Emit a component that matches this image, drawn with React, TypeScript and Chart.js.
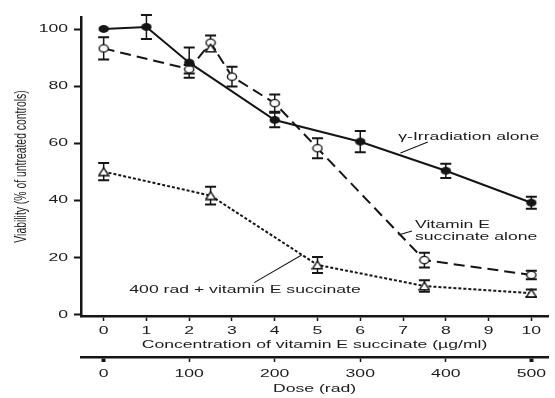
import { useEffect, useRef } from 'react';
import { Chart, registerables } from 'chart.js';

Chart.register(...registerables);

// ---- data ----
const CONC_TICKS = [0, 1, 2, 3, 4, 5, 6, 7, 8, 9, 10];
const DOSE_TICKS = [0, 100, 200, 300, 400, 500];
const Y_TICKS = [0, 20, 40, 60, 80, 100];

const GAMMA_X = [0, 1, 2, 4, 6, 8, 10];
const GAMMA_Y = [100.1, 100.8, 88.3, 68.2, 60.6, 50.4, 39.2];
const GAMMA_ERR = [0, 4.2, 5.3, 2.5, 3.7, 2.5, 2.1];

const VITE_X = [0, 2, 2.5, 3, 4, 5, 7.5, 10];
const VITE_Y = [93.3, 86, 95.3, 83.4, 74.1, 58.3, 19.1, 13.9];
const VITE_ERR = [3.9, 1.5, 2.5, 3.5, 3, 3.5, 2.6, 1.5];

const COMBO_X = [0, 2.5, 5, 7.5, 10];
const COMBO_Y = [50.1, 41.7, 17.4, 10, 7.5];
const COMBO_ERR = [3, 3.1, 2.8, 2, 1.3];

const EXTRA_X = [2.5];
const EXTRA_Y = [93.4];

const LABEL_GAMMA = ['γ-Irradiation alone'];
const LABEL_VITE = ['Vitamin E', 'succinate alone'];
const LABEL_COMBO = ['400 rad + vitamin E succinate'];

// ---- style ----
const INK = '#151515';
const TEXT = '#1c1c1c';
const FONT_FAMILY = '"Liberation Sans", Arial, sans-serif';
const SX = 1.6; // horizontal stretch of the scanned figure's text
const X_MIN = -0.53;
const X_MAX = 10.39;
const DOSE_PER_CONC = 50;

const pts = (xs: number[], ys: number[]) => xs.map((x, i) => ({ x, y: ys[i] }));

function patchContext(ctx: CanvasRenderingContext2D) {
  const origFill = ctx.fillText.bind(ctx);
  const origMeasure = ctx.measureText.bind(ctx);
  (ctx as any).fillText = (text: string, x: number, y: number, maxWidth?: number) => {
    const m = ctx.getTransform();
    const px = m.a * x + m.c * y + m.e;
    const py = m.b * x + m.d * y + m.f;
    ctx.save();
    ctx.setTransform(1, 0, 0, 1, 0, 0);
    ctx.translate(px, py);
    ctx.scale(SX, 1);
    ctx.translate(-px, -py);
    ctx.transform(m.a, m.b, m.c, m.d, m.e, m.f);
    if (maxWidth === undefined || maxWidth === null) origFill(text, x, y);
    else origFill(text, x, y, maxWidth);
    ctx.restore();
  };
  (ctx as any).measureText = (text: string) => {
    const r = origMeasure(text);
    return {
      width: r.width * SX,
      actualBoundingBoxAscent: r.actualBoundingBoxAscent,
      actualBoundingBoxDescent: r.actualBoundingBoxDescent,
      actualBoundingBoxLeft: r.actualBoundingBoxLeft * SX,
      actualBoundingBoxRight: r.actualBoundingBoxRight * SX,
    };
  };
}

function makeMarker(kind: 'filled' | 'open' | 'triangle') {
  const c = document.createElement('canvas');
  c.width = 12;
  c.height = 10;
  const g = c.getContext('2d')!;
  g.strokeStyle = INK;
  g.fillStyle = kind === 'filled' ? INK : '#fff';
  g.lineWidth = 1.4;
  g.beginPath();
  if (kind === 'triangle') {
    g.moveTo(6, 1.2);
    g.lineTo(11, 8.8);
    g.lineTo(1, 8.8);
    g.closePath();
  } else if (kind === 'filled') {
    g.ellipse(6, 5, 5.2, 3.9, 0, 0, Math.PI * 2);
  } else {
    g.ellipse(6, 5, 4.6, 3.6, 0, 0, Math.PI * 2);
  }
  g.fill();
  if (kind !== 'filled') g.stroke();
  return c;
}

const ERROR_SERIES = [
  { xs: GAMMA_X, ys: GAMMA_Y, errs: GAMMA_ERR },
  { xs: VITE_X, ys: VITE_Y, errs: VITE_ERR },
  { xs: COMBO_X, ys: COMBO_Y, errs: COMBO_ERR },
];

const errorBarPlugin = {
  id: 'errorBars',
  beforeDatasetsDraw(chart: any) {
    const { ctx, scales } = chart;
    const x = scales.x;
    const y = scales.y;
    ctx.save();
    ctx.strokeStyle = INK;
    for (const s of ERROR_SERIES) {
      s.xs.forEach((xv, i) => {
        const e = s.errs[i];
        if (!e) return;
        const px = x.getPixelForValue(xv);
        const top = y.getPixelForValue(s.ys[i] + e);
        const bot = y.getPixelForValue(s.ys[i] - e);
        ctx.lineWidth = 1.5;
        ctx.beginPath();
        ctx.moveTo(px, top);
        ctx.lineTo(px, bot);
        ctx.stroke();
        ctx.lineWidth = 2;
        ctx.beginPath();
        ctx.moveTo(px - 5.5, top);
        ctx.lineTo(px + 5.5, top);
        ctx.moveTo(px - 5.5, bot);
        ctx.lineTo(px + 5.5, bot);
        ctx.stroke();
      });
    }
    ctx.restore();
  },
};

const ANNOTATIONS = [
  { lines: LABEL_GAMMA, x: 6.89, y: 62.2, leader: [[6.94, 56.6], [7.58, 60.5]] },
  { lines: LABEL_VITE, x: 7.28, y: 31.4, leader: [[6.89, 27.9], [7.21, 29.3]] },
  { lines: LABEL_COMBO, x: 0.6, y: 8.6, leader: [[3.52, 11.2], [4.63, 20.9]] },
];

const annotationPlugin = {
  id: 'annotations',
  afterDatasetsDraw(chart: any) {
    const { ctx, scales } = chart;
    const x = scales.x;
    const y = scales.y;
    ctx.save();
    ctx.font = `11px ${FONT_FAMILY}`;
    ctx.fillStyle = TEXT;
    ctx.textAlign = 'left';
    ctx.textBaseline = 'middle';
    for (const a of ANNOTATIONS) {
      const px = x.getPixelForValue(a.x);
      const py = y.getPixelForValue(a.y);
      a.lines.forEach((t, i) => ctx.fillText(t, px, py + i * 12));
      ctx.strokeStyle = INK;
      ctx.lineWidth = 1.1;
      ctx.beginPath();
      ctx.moveTo(x.getPixelForValue(a.leader[0][0]), y.getPixelForValue(a.leader[0][1]));
      ctx.lineTo(x.getPixelForValue(a.leader[1][0]), y.getPixelForValue(a.leader[1][1]));
      ctx.stroke();
    }
    ctx.restore();
  },
};

export default function App() {
  const ref = useRef<HTMLCanvasElement | null>(null);

  useEffect(() => {
    const canvas = ref.current!;
    const ctx = canvas.getContext('2d')!;
    patchContext(ctx);
    const filled = makeMarker('filled');
    const open = makeMarker('open');
    const tri = makeMarker('triangle');
    const font = { family: FONT_FAMILY, size: 11 };

    const chart = new Chart(ctx, {
      type: 'line',
      data: {
        datasets: [
          {
            label: 'γ-Irradiation alone',
            data: pts(GAMMA_X, GAMMA_Y),
            borderColor: INK,
            borderWidth: 2,
            pointStyle: filled as any,
            pointRadius: 5,
            tension: 0,
          },
          {
            label: 'extra',
            data: pts(EXTRA_X, EXTRA_Y),
            showLine: false,
            borderColor: INK,
            pointStyle: tri as any,
            pointRadius: 5,
          },
          {
            label: 'Vitamin E succinate alone',
            data: pts(VITE_X, VITE_Y),
            borderColor: INK,
            borderWidth: 2,
            borderDash: [11, 6],
            pointStyle: open as any,
            pointRadius: 5,
            tension: 0,
          },
          {
            label: '400 rad + vitamin E succinate',
            data: pts(COMBO_X, COMBO_Y),
            borderColor: INK,
            borderWidth: 2,
            borderDash: [3, 2],
            pointStyle: tri as any,
            pointRadius: 5,
            tension: 0,
          },
        ],
      },
      options: {
        responsive: false,
        animation: false,
        devicePixelRatio: 1,
        layout: { padding: { top: 17, left: 0, right: 0, bottom: 0 } },
        plugins: { legend: { display: false }, tooltip: { enabled: false } },
        events: [],
        scales: {
          x: {
            type: 'linear',
            axis: 'x',
            position: 'bottom',
            weight: 0,
            min: X_MIN,
            max: X_MAX,
            afterBuildTicks: (s: any) => {
              s.ticks = CONC_TICKS.map((v) => ({ value: v }));
            },
            afterFit: (s: any) => {
              s.height = 41;
            },
            ticks: { font, color: TEXT, padding: 3, maxRotation: 0, autoSkip: false },
            grid: { drawOnChartArea: false, tickLength: 5, tickWidth: 1.5, tickColor: INK, color: INK },
            border: { display: true, width: 2.5, color: INK },
            title: {
              display: true,
              text: 'Concentration of vitamin E succinate (µg/ml)',
              font,
              color: TEXT,
              padding: { top: 0, bottom: 5 },
            },
          },
          dose: {
            type: 'linear',
            axis: 'x',
            position: 'bottom',
            weight: 1,
            min: X_MIN * DOSE_PER_CONC,
            max: X_MAX * DOSE_PER_CONC,
            afterBuildTicks: (s: any) => {
              s.ticks = DOSE_TICKS.map((v) => ({ value: v }));
            },
            afterFit: (s: any) => {
              s.height = 41;
            },
            ticks: { font, color: TEXT, padding: 5, maxRotation: 0, autoSkip: false },
            grid: {
              drawOnChartArea: false,
              tickLength: 5,
              tickWidth: (c: any) => (c.tick && (c.tick.value === 0 || c.tick.value === 500) ? 4 : 1.5),
              tickColor: INK,
              color: INK,
            },
            border: { display: true, width: 2.5, color: INK },
            title: {
              display: true,
              text: 'Dose (rad)',
              font,
              color: TEXT,
              padding: { top: 0, bottom: 2 },
            },
          },
          y: {
            type: 'linear',
            position: 'left',
            min: -0.5,
            max: 104.3,
            afterBuildTicks: (s: any) => {
              s.ticks = Y_TICKS.map((v) => ({ value: v }));
            },
            afterFit: (s: any) => {
              s.width = 81;
            },
            ticks: { font, color: TEXT, padding: 6 },
            grid: { drawOnChartArea: false, tickLength: 7, tickWidth: 2, tickColor: INK, color: INK },
            border: { display: true, width: 2.5, color: INK },
            title: {
              display: true,
              text: 'Viability (% of untreated controls)',
              font: { family: FONT_FAMILY, size: 10.4 },
              color: TEXT,
              padding: { top: 15, bottom: 0 },
            },
          },
        },
      } as any,
      plugins: [errorBarPlugin, annotationPlugin],
    });

    return () => chart.destroy();
  }, []);

  return (
    <div style={{ position: 'fixed', left: 0, top: 0, width: 555, height: 398, background: '#fff' }}>
      <canvas ref={ref} width={555} height={398} style={{ display: 'block', width: 555, height: 398 }} />
    </div>
  );
}
